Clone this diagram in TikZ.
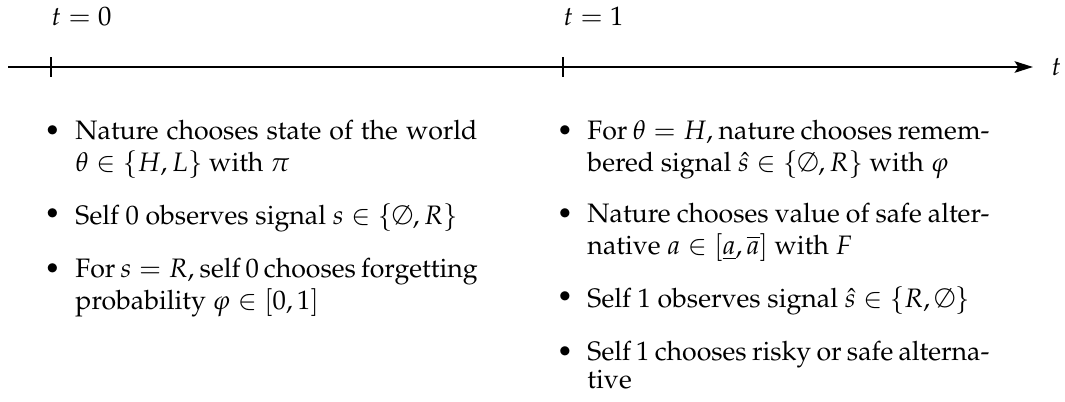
\documentclass[tikz,border=0pt]{standalone}
\usepackage[T1]{fontenc}
\usepackage{mathpazo}
\usetikzlibrary{arrows.meta}
\newcommand{\justline}[1]{\makebox[163.4pt][s]{#1}}
\begin{document}
\begin{tikzpicture}[x=0.4065pt,y=-0.4065pt,
  axis/.style={line width=1.15pt},
  tickmark/.style={line width=0.75pt},
  txt/.style={inner sep=0pt, font=\fontsize{10.85}{11.18}\selectfont},
  lbl/.style={txt, anchor=base west},
  bul/.style={txt, anchor=base},
  itm/.style={txt, anchor=north west, align=left},
]
\useasboundingbox (0,0) rectangle (1065,402);
% axis
\coordinate (start) at (8,67);
\coordinate (tzero) at (51,67);
\coordinate (tone) at (563,67);
\coordinate (end) at (1033,67);
\draw[axis,-{Stealth[length=7.4pt,width=4.6pt,inset=1.4pt]}] (start) -- (end);
\node[txt, anchor=west] (tlabel) at (1051,67) {$t$};
\draw[tickmark] (tzero) ++(0,-10) -- ++(0,20);
\draw[tickmark] (tone) ++(0,-10) -- ++(0,20);
\node[lbl] (l0) at (51,25) {$t=0$};
\node[lbl] (l1) at (563,25) {$t=1$};
% left column
\node[bul] (bl1) at (52.5,139) {\textbullet};
\node[itm] (il1) at (75,119.7) {\strut\justline{Nature chooses state of the world}\\ $\theta\in\{H,L\}$ with $\pi$};
\node[bul] (bl2) at (52.5,222) {\textbullet};
\node[itm] (il2) at (75,202.7) {\strut Self 0 observes signal $s\in\{\emptyset,R\}$};
\node[bul] (bl3) at (52.5,277) {\textbullet};
\node[itm] (il3) at (75,257.7) {\strut\justline{For $s=R$, self 0 chooses forgetting}\\ probability $\varphi\in[0,1]$};
% right column
\node[bul] (br1) at (565,139) {\textbullet};
\node[itm] (ir1) at (587,119.7) {\strut\justline{For $\theta=H$, nature chooses remem-}\\ bered signal $\hat{s}\in\{\emptyset,R\}$ with $\varphi$};
\node[bul] (br2) at (565,222) {\textbullet};
\node[itm] (ir2) at (587,202.7) {\strut\justline{Nature chooses value of safe alter-}\\ native $a\in[\underline{a},\overline{a}]$ with $F$};
\node[bul] (br3) at (565,305) {\textbullet};
\node[itm] (ir3) at (587,285.7) {\strut Self 1 observes signal $\hat{s}\in\{R,\emptyset\}$};
\node[bul] (br4) at (565,360) {\textbullet};
\node[itm] (ir4) at (587,340.7) {\strut\justline{Self 1 chooses risky or safe alterna-}\\ tive};
\end{tikzpicture}
\end{document}
